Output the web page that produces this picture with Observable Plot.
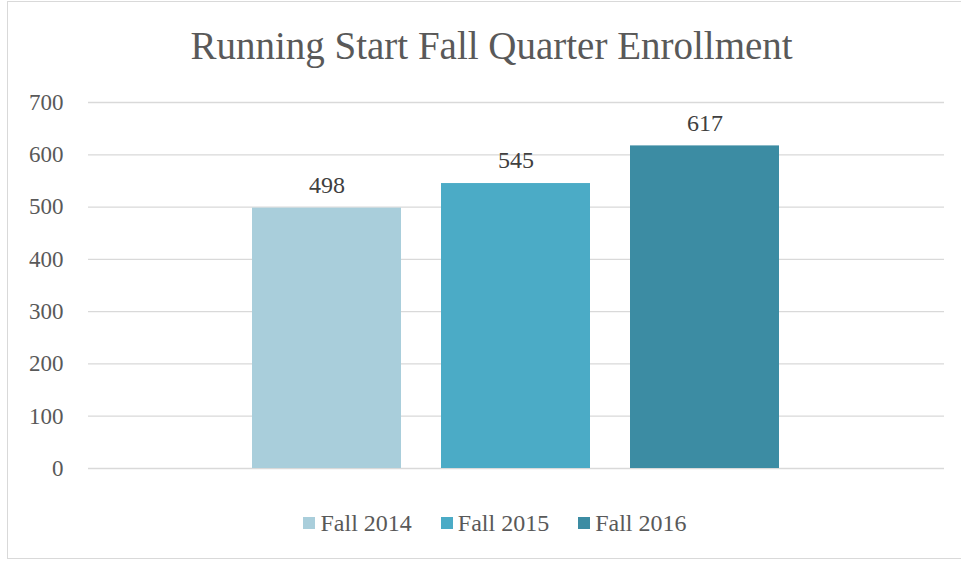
<!DOCTYPE html>
<html>
<head>
<meta charset="utf-8">
<script src="https://cdn.jsdelivr.net/npm/d3@7"></script>
<script src="https://cdn.jsdelivr.net/npm/@observablehq/plot@0.6"></script>
<style>
  html, body { margin: 0; padding: 0; background: #fff; }
  body { width: 961px; height: 561px; position: relative; overflow: hidden; font-family: "Liberation Serif", "DejaVu Serif", serif; }
  #frame { position: absolute; left: 7px; top: 1px; width: 970px; height: 558px; border: 1px solid #d9d9d9; box-sizing: border-box; }
  #title { position: absolute; left: 0; top: 26px; width: 983px; text-align: center; font-size: 39px; color: #595959; line-height: 1; white-space: nowrap; }
  #chart { position: absolute; left: 0; top: 80px; }
  #legend { position: absolute; left: 0; top: 511px; width: 990px; display: flex; justify-content: center; gap: 29px; font-size: 24px; color: #595959; line-height: 24px; }
  .item { display: flex; align-items: center; gap: 5px; }
  .sw { width: 12px; height: 12px; display: inline-block; }
</style>
</head>
<body>
<div id="frame"></div>
<div id="title">Running Start Fall Quarter Enrollment</div>
<div id="chart"></div>
<div id="legend"></div>
<script>
const series = ["Fall 2014", "Fall 2015", "Fall 2016"];
const values = [498, 545, 617];
const colors = ["#a9cedb", "#4babc6", "#3c8ca3"];
const yTicks = [0, 100, 200, 300, 400, 500, 600, 700];

const data = series.map((s, i) => ({series: s, value: values[i]}));

const chart = Plot.plot({
  width: 961,
  height: 410,
  marginLeft: 88,
  marginRight: 17,
  marginTop: 22,
  marginBottom: 22,
  style: { fontFamily: "Liberation Serif, DejaVu Serif, serif", fontSize: "23px", color: "#595959", background: "transparent" },
  x: { domain: series, paddingInner: 0.2105, paddingOuter: 0.858, axis: null },
  y: { domain: [0, 700], ticks: yTicks, axis: null },
  color: { domain: series, range: colors },
  marks: [
    Plot.ruleY(yTicks, { stroke: "#d9d9d9", strokeWidth: 1.3 }),
    Plot.barY(data, { x: "series", y: "value", fill: "series" }),
    Plot.text(data, { x: "series", y: "value", text: d => String(d.value), lineAnchor: "middle", dy: -23, fill: "#404040", fontSize: 24 }),
    Plot.axisY(yTicks, { tickSize: 0, tickPadding: 25, fill: "#595959", fontSize: 23, label: null, tickFormat: d => String(d) })
  ]
});
document.getElementById("chart").appendChild(chart);

const legend = document.getElementById("legend");
series.forEach((s, i) => {
  const it = document.createElement("div");
  it.className = "item";
  const sw = document.createElement("span");
  sw.className = "sw";
  sw.style.background = colors[i];
  const tx = document.createElement("span");
  tx.textContent = s;
  it.appendChild(sw); it.appendChild(tx);
  legend.appendChild(it);
});
</script>
</body>
</html>
